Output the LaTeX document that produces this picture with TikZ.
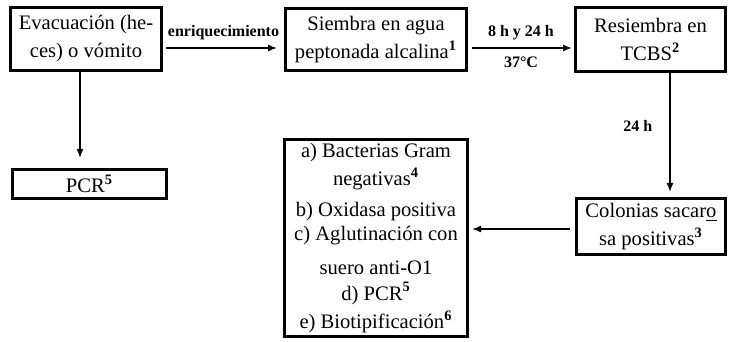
\documentclass[tikz,border=0pt]{standalone}
\usepackage{fontspec}
\setmainfont{Liberation Serif}
\usepackage{tikz}
\usetikzlibrary{arrows.meta, positioning}

\newcommand{\nota}[1]{\raisebox{0.5pt}{\textsuperscript{\textbf{#1}}}}

\begin{document}
\begin{tikzpicture}[x=0.5pt, y=-0.5pt,
    caja/.style={rectangle, draw, line width=1.5pt, align=center, inner sep=0pt,
        font=\fontsize{10.3}{14}\selectfont},
    flecha/.style={-{Latex[length=4.5pt,width=3.5pt]}, line width=0.8pt},
    etiq/.style={font=\fontsize{8}{9}\selectfont\bfseries, inner sep=0pt}]
    \useasboundingbox (0,0) rectangle (730,342);

    % muestra
    \node[caja, minimum width=75.5pt, minimum height=31.5pt] (evac) at (86,39) {Evacuación (he-\\ces) o vómito};
    \node[caja, minimum width=77pt, minimum height=14.5pt] (pcr) at (89.5,184) {PCR\nota{5}};

    % cultivo
    \node[caja, minimum width=90.5pt, minimum height=31pt] (siembra) at (376,39.5) {Siembra en agua\\peptonada alcalina\nota{1}};
    \node[caja, minimum width=75pt, minimum height=32pt] (resiembra) at (650.5,39.5) {Resiembra en\\TCBS\nota{2}};
    \node[caja, minimum width=74.5pt, minimum height=28pt] (colonias) at (651,226.5) {Colonias sacar\underline{o}\\sa positivas\nota{3}};

    % identificacion
    \node[caja, minimum width=91.5pt, minimum height=98.5pt, font=\fontsize{10.3}{12}\selectfont] (pruebas) at (376,238)
        {a) Bacterias Gram\\[2.3pt]
         negativas\nota{4}\\[3.3pt]
         b) Oxidasa positiva\\[0.2pt]
         c) Aglutinación con\\[4.8pt]
         suero anti-O1\\[0.8pt]
         d) PCR\nota{5}\\[2.3pt]
         e) Biotipificación\nota{6}};

    % flechas
    \draw[flecha, shorten <=1.5pt, shorten >=3.5pt] ([yshift=-4.5pt]evac.east) -- ([yshift=-4.5pt]evac.east -| siembra.west)
        node[etiq, midway, above=3.5pt] {enriquecimiento};
    \draw[flecha, shorten <=2pt, shorten >=1pt] ([yshift=-4.25pt]siembra.east) -- ([yshift=-4.25pt]siembra.east -| resiembra.west)
        node[etiq, midway, above=3.5pt] {8 h y 24 h}
        node[etiq, midway, below=4pt] {37°C};
    \draw[flecha, shorten >=2.5pt] ([xshift=9.75pt]resiembra.south) -- ([xshift=9.75pt]resiembra.south |- colonias.north)
        node[etiq, pos=0.43, left=8.5pt] {24 h};
    \draw[flecha, shorten <=2.5pt, shorten >=1.5pt] ([yshift=-1.25pt]colonias.west) -- ([yshift=-1.25pt]colonias.west -| pruebas.east);
    \draw[flecha, shorten >=5pt] ([xshift=-3pt]evac.south) -- ([xshift=-3pt]evac.south |- pcr.north);
\end{tikzpicture}
\end{document}
